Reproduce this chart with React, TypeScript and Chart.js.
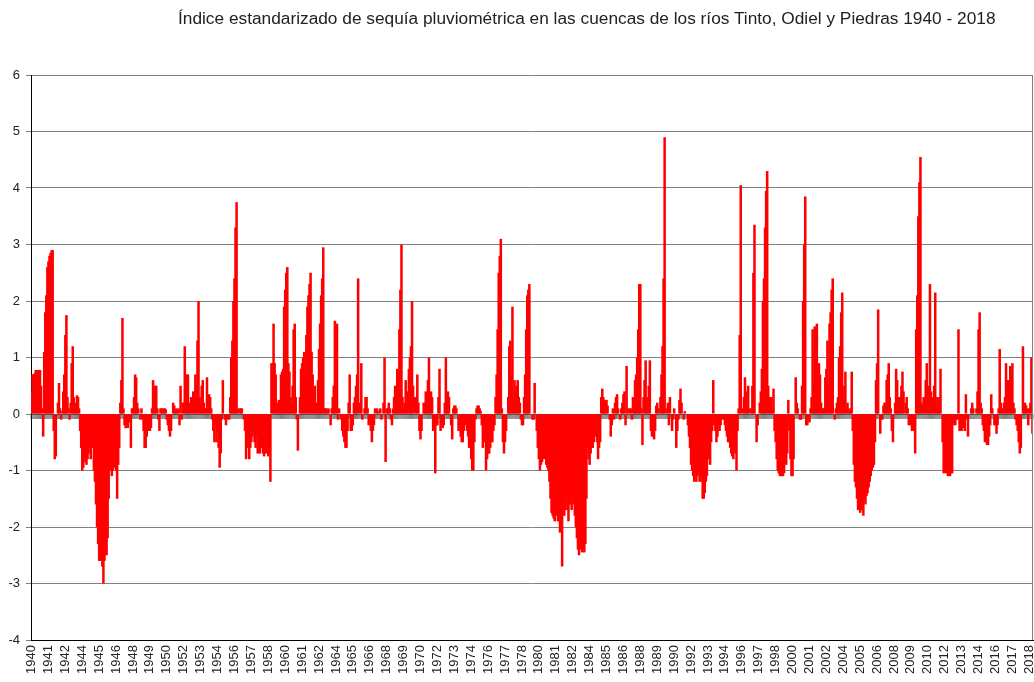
import React, { useEffect, useRef } from "react";
import { Chart, registerables } from "chart.js";

Chart.register(...registerables);

const TITLE =
  "Índice estandarizado de sequía pluviométrica en las cuencas de los ríos Tinto, Odiel y Piedras 1940 - 2018";
const FIRST_YEAR = 1940;
const LABEL_EVERY = 16;
const Y_MIN = -4;
const Y_MAX = 6;

// Monthly SPI values, one row per year
const spi1940s = [
  0.4, 0.7, 0.7, 0.72, 0.78, 0.78, 0.25, 0.78, 0.78, 0.5, 0.1, -0.4,
  1.1, 1.8, 2.1, 2.6, 2.7, 2.8, 2.85, 2.9, 2.9, -0.3, -0.8, -0.75,
  0.0, 0.2, 0.55, 0.1, -0.1, 0.05, 0.4, 0.7, 1.4, 1.75, 0.3, 0.1,
  -0.1, 0.2, 0.9, 1.2, 0.3, 0.1, 0.2, 0.33, 0.3, 0.1, -0.3, -0.6,
  -1.0, -0.95, -0.8, -0.85, -0.9, -0.8, -0.7, -0.6, -0.8, -0.5, -0.6, -1.0,
  -1.2, -1.6, -2.0, -2.3, -2.6, -2.6, -2.5, -2.7, -3.0, -2.6, -2.5, -2.5,
  -2.2, -1.5, -1.0, -1.0, -1.1, -1.0, -0.9, -0.95, -1.0, -1.5, -0.9, -0.6,
  0.2, 0.6, 1.7, 0.1, -0.2, -0.25, -0.2, -0.25, -0.15, -0.1, -0.6, 0.1,
  0.1, 0.3, 0.7, 0.65, 0.2, 0.1, 0.0, -0.1, 0.1, -0.1, -0.3, -0.6,
  -0.6, -0.4, -0.3, -0.3, -0.3, -0.25, 0.1, 0.6, 0.2, 0.5, 0.5, 0.1,
];
const spi1950s = [
  -0.1, -0.3, 0.1, 0.1, 0.05, 0.1, 0.1, 0.08, -0.1, -0.2, -0.3, -0.4,
  -0.3, 0.0, 0.2, 0.15, 0.05, 0.1, 0.05, 0.1, -0.2, 0.5, -0.1, 0.2,
  0.2, 1.2, 0.3, 0.7, 0.7, 0.2, 0.1, 0.3, 0.2, 0.4, 0.3, 0.7,
  0.5, 1.3, 2.0, 0.3, 0.2, 0.5, 0.6, 0.2, 0.1, 0.1, 0.65, 0.2,
  0.35, 0.3, 0.1, -0.1, -0.3, -0.5, -0.2, -0.5, -0.3, -0.6, -0.95, -0.7,
  -0.1, 0.6, 0.0, -0.1, -0.2, -0.1, 0.0, -0.1, 0.3, 1.0, 1.3, 2.0,
  2.4, 3.3, 3.75, 0.1, 0.0, 0.1, 0.1, 0.1, 0.0, -0.1, -0.3, -0.8,
  -0.5, -0.6, -0.8, -0.6, -0.5, -0.4, -0.3, -0.5, -0.6, -0.4, -0.7, -0.65,
  -0.7, -0.6, -0.5, -0.7, -0.75, -0.6, -0.7, -0.6, -0.75, -0.7, -1.2, 0.9,
  0.9, 1.6, 0.9, 0.7, 0.1, 0.2, 0.25, 0.2, 0.7, 0.75, 0.8, 1.9,
];
const spi1960s = [
  2.2, 2.5, 2.6, 0.9, 0.75, 0.3, 0.2, 0.5, 1.5, 1.6, 0.3, -0.1,
  -0.65, 0.0, 0.3, 0.8, 0.9, 1.0, 1.1, 0.7, 1.4, 1.9, 2.1, 2.3,
  2.5, 1.1, 0.7, 0.3, 0.5, 0.1, 0.2, 0.6, 1.15, 1.6, 2.1, 2.4,
  2.95, 0.1, 0.1, 0.1, 0.05, 0.1, 0.0, -0.2, 0.1, 0.3, 0.5, 1.65,
  1.5, 1.6, -0.1, 0.1, 0.0, -0.1, -0.3, -0.4, -0.5, -0.6, -0.6, -0.3,
  0.2, 0.7, -0.3, -0.3, -0.2, 0.2, 0.3, 0.5, 0.7, 2.4, 0.0, 0.2,
  0.9, -0.1, 0.0, 0.1, 0.3, 0.3, 0.1, -0.2, -0.1, -0.3, -0.5, -0.3,
  -0.2, 0.1, 0.0, 0.1, 0.05, 0.0, 0.1, -0.1, 0.0, 0.2, 1.0, -0.85,
  0.1, 0.1, 0.2, 0.1, -0.1, -0.2, 0.1, 0.3, 0.5, 0.4, 0.8, 0.6,
  1.5, 2.2, 3.0, 0.3, 0.1, 0.2, 0.6, 0.2, 0.4, 0.8, 1.0, 1.2,
];
const spi1970s = [
  2.0, 0.5, 0.0, 0.3, 0.3, 0.7, 0.2, -0.3, -0.45, -0.3, 0.0, 0.2,
  0.2, 0.4, 0.3, 0.6, 1.0, 0.2, 0.4, 0.3, -0.3, -0.2, -1.05, -0.2,
  -0.2, 0.3, 0.8, -0.3, -0.2, -0.25, -0.2, 0.2, 1.0, 0.2, 0.4, 0.3,
  0.0, -0.2, -0.45, 0.1, 0.15, 0.15, 0.1, 0.0, -0.3, -0.2, -0.4, -0.5,
  -0.5, -0.3, -0.2, -0.1, -0.3, -0.4, -0.6, -0.5, -0.8, -1.0, -1.0, -0.5,
  -0.1, 0.1, 0.15, 0.15, 0.1, 0.05, -0.2, -0.6, -0.3, -0.5, -1.0, -0.8,
  -0.7, -0.7, -0.6, -0.5, -0.5, -0.3, -0.2, 0.3, 0.7, 1.5, 2.5, 2.8,
  3.1, 0.1, -0.5, -0.7, -0.5, -0.3, 0.0, 0.3, 1.2, 1.3, 0.7, 1.9,
  0.3, 0.6, 0.4, 0.5, 0.6, 0.3, 0.2, -0.1, -0.2, -0.2, 0.3, 0.7,
  1.5, 2.1, 2.2, 2.3, 0.0, 0.0, -0.1, -0.1, 0.55, 0.0, -0.3, -0.6,
];
const spi1980s = [
  -0.8, -1.0, -0.9, -0.85, -0.8, -0.7, -0.8, -0.9, -0.95, -1.0, -1.2, -1.5,
  -1.75, -1.8, -1.85, -1.9, -1.8, -1.7, -1.9, -1.8, -2.1, -2.0, -2.7, -1.6,
  -1.8, -1.7, -1.5, -1.7, -1.9, -1.6, -1.6, -1.7, -1.5, -1.6, -1.8, -2.0,
  -2.2, -2.4, -2.5, -2.4, -2.3, -2.45, -2.4, -2.45, -2.3, -1.5, -0.6, -0.8,
  -0.9, -0.7, -0.6, -0.6, -0.5, -0.4, -0.3, -0.5, -0.8, -0.6, -0.5, 0.3,
  0.45, 0.3, 0.25, 0.2, 0.25, 0.15, 0.0, -0.1, -0.4, -0.2, 0.1, -0.1,
  0.2, 0.3, 0.35, 0.1, 0.0, -0.1, 0.1, 0.2, 0.35, 0.4, -0.2, 0.85,
  0.1, 0.0, 0.1, 0.1, -0.1, 0.3, 0.2, 0.6, 0.7, 1.0, 1.5, 2.3,
  2.3, 0.1, -0.55, 0.3, 0.6, 0.95, 0.3, 0.2, 0.5, 0.95, -0.3, -0.4,
  -0.4, -0.45, -0.3, 0.15, 0.2, 0.1, 0.0, 0.3, 0.7, 1.2, 2.4, 4.9,
];
const spi1990s = [
  0.0, 0.1, 0.2, -0.2, 0.3, 0.0, -0.3, -0.1, 0.1, 0.0, -0.6, -0.3,
  -0.1, 0.25, 0.45, 0.2, 0.0, -0.1, 0.05, 0.0, 0.0, -0.2, -0.4, -0.6,
  -0.9, -1.0, -1.1, -1.2, -1.0, -1.2, -1.1, -1.0, -1.2, -1.1, -1.2, -1.5,
  -1.5, -1.4, -1.2, -1.1, -0.6, -0.8, -0.9, -0.5, -0.3, 0.6, -0.2, -0.3,
  -0.5, -0.4, -0.2, -0.3, -0.2, -0.1, 0.0, -0.1, -0.2, -0.3, -0.4, -0.5,
  -0.5, -0.6, -0.7, -0.75, -0.8, -0.6, -0.7, -1.0, -0.3, 0.1, 1.4, 4.05,
  0.0, 0.1, 0.3, 0.65, 0.4, 0.3, 0.5, 0.1, 0.0, 0.1, 0.5, 2.5,
  3.35, 0.0, -0.5, -0.2, 0.0, 0.2, 0.4, 0.8, 2.0, 2.4, 3.3, 3.95,
  4.3, 0.5, 0.2, 0.3, 0.3, 0.1, 0.45, -0.3, -0.5, -0.8, -1.0, -1.05,
  -1.1, -1.05, -1.1, -1.1, -1.05, -0.6, -0.9, -0.7, 0.25, -0.3, -0.8, -1.1,
];
const spi2000s = [
  -1.1, -0.8, 0.0, 0.65, 0.2, 0.1, 0.0, -0.1, -0.1, 0.5, 2.0, 3.0,
  3.85, -0.2, -0.2, -0.1, -0.15, 0.1, 0.3, 1.5, 0.5, 1.55, 0.9, 1.6,
  0.2, 0.9, 0.7, 0.2, 0.1, 0.1, 0.1, 0.65, 0.8, 1.3, 0.5, 1.6,
  1.8, 2.2, 2.4, 0.0, -0.1, 0.1, 0.2, 0.3, 1.0, 1.2, 1.8, 2.15,
  0.3, 0.5, 0.75, 0.1, 0.2, 0.1, 0.05, 0.1, 0.75, -0.3, -0.9, -1.2,
  -1.3, -1.5, -1.7, -1.6, -1.75, -1.7, -1.6, -1.8, -1.5, -1.6, -1.45, -1.4,
  -1.3, -1.2, -1.1, -1.0, -0.95, -0.9, -0.5, 0.6, 0.9, 1.85, 0.0, -0.35,
  -0.1, -0.1, 0.15, 0.2, 0.2, 0.6, 0.7, 0.9, 0.3, 0.1, -0.3, -0.5,
  0.0, 0.2, 0.8, 0.6, 0.3, 0.3, 0.3, 0.5, 0.75, 0.4, 0.0, 0.2,
  0.3, 0.1, -0.2, -0.1, -0.2, -0.3, -0.2, -0.3, -0.7, 1.5, 2.1, 3.5,
];
const spi2010s = [
  4.1, 4.55, 0.2, 0.15, 0.3, 0.3, 0.6, 0.9, 0.4, 0.5, 2.3, 0.4,
  0.2, 0.3, 0.5, 2.15, 0.1, 0.3, 0.2, 0.3, 0.8, 0.0, -0.5, -1.05,
  -1.0, -1.05, -1.0, -1.1, -1.05, -1.1, -1.05, -1.05, -0.2, 0.0, -0.2, -0.1,
  -0.1, 1.5, -0.3, -0.3, -0.3, -0.2, -0.25, -0.3, 0.35, -0.1, -0.4, 0.0,
  0.0, 0.1, 0.2, 0.1, 0.0, 0.0, 0.1, 0.4, 1.5, 1.8, 0.2, 0.1,
  -0.2, -0.3, -0.5, -0.5, -0.55, -0.55, -0.4, -0.2, 0.35, 0.1, 0.0, -0.2,
  -0.2, -0.35, -0.2, 0.1, 1.15, 0.2, 0.1, 0.1, 0.2, 0.3, 0.9, 0.6,
  0.6, 0.4, 0.85, 0.7, 0.9, 0.2, 0.1, -0.1, -0.2, -0.3, -0.5, -0.7,
  -0.6, 0.0, 1.2, 0.1, 0.2, 0.15, 0.1, -0.2, 0.1, 0.2, 1.0, -0.35,
];

const spiValues: number[] = [
  ...spi1940s,
  ...spi1950s,
  ...spi1960s,
  ...spi1970s,
  ...spi1980s,
  ...spi1990s,
  ...spi2000s,
  ...spi2010s,
];

// category label of each month = its year
const monthLabels: string[] = spiValues.map((_, i) => String(FIRST_YEAR + Math.floor(i / 12)));

const FONT = "'Liberation Sans', Arial, sans-serif";

const zeroTicks = {
  id: "zeroTicks",
  beforeDatasetsDraw(chart: any) {
    const { ctx, scales } = chart;
    const x = scales.x;
    const y = scales.y;
    const y0 = y.getPixelForValue(0);
    const n = chart.data.labels.length;
    const step = (x.right - x.left) / n;
    ctx.save();
    ctx.strokeStyle = "rgba(40,40,40,0.6)";
    ctx.lineWidth = 1;
    ctx.beginPath();
    for (let i = 0; i <= n; i++) {
      const px = x.left + i * step;
      ctx.moveTo(px, y0);
      ctx.lineTo(px, y0 + 5);
    }
    ctx.stroke();
    ctx.restore();
  },
  afterDraw(chart: any) {
    const { ctx, chartArea } = chart;
    ctx.save();
    ctx.strokeStyle = "#808080";
    ctx.lineWidth = 1;
    ctx.beginPath();
    const rx = Math.round(chartArea.right) - 0.5;
    ctx.moveTo(rx, chartArea.top);
    ctx.lineTo(rx, chartArea.bottom);
    ctx.stroke();
    ctx.restore();
  },
};

export default function App() {
  const canvasRef = useRef<HTMLCanvasElement | null>(null);

  useEffect(() => {
    if (!canvasRef.current) return;
    const chart = new Chart(canvasRef.current, {
      type: "bar",
      data: {
        labels: monthLabels,
        datasets: [
          {
            data: spiValues,
            backgroundColor: "#ff0000",
            borderWidth: 0,
            barPercentage: 2.4,
            categoryPercentage: 1,
          },
        ],
      },
      options: {
        animation: false,
        responsive: false,
        maintainAspectRatio: false,
        layout: { padding: { top: 75, right: 1, left: 0, bottom: 0 } },
        plugins: {
          legend: { display: false },
          title: { display: false },
          tooltip: { enabled: false },
        },
        scales: {
          x: {
            grid: { display: false, drawTicks: false },
            border: { display: true, color: "#000", width: 1 },
            ticks: {
              autoSkip: false,
              minRotation: 90,
              maxRotation: 90,
              padding: 5,
              color: "#222",
              font: { family: FONT, size: 13 },
              callback: (_v: any, i: number) => (i % LABEL_EVERY === 0 ? monthLabels[i] : ""),
            },
            afterFit: (s: any) => {
              s.height = 42;
              s.paddingLeft = 0;
              s.paddingRight = 0;
            },
          },
          y: {
            min: Y_MIN,
            max: Y_MAX,
            ticks: {
              stepSize: 1,
              padding: 6,
              color: "#222",
              font: { family: FONT, size: 13 },
            },
            grid: { color: "#808080", lineWidth: 1, tickLength: 5 },
            border: { display: true, color: "#000", width: 1 },
            afterFit: (s: any) => {
              s.width = 31;
              s.paddingTop = 0;
              s.paddingBottom = 0;
            },
          },
        },
      },
      plugins: [zeroTicks],
    });
    return () => chart.destroy();
  }, []);

  return (
    <div style={{ position: "absolute", left: 0, top: 0, width: 1034, height: 682, background: "#fff", overflow: "hidden" }}>
      <div
        style={{
          position: "absolute",
          left: 178,
          top: 8,
          whiteSpace: "nowrap",
          fontFamily: FONT,
          fontSize: 17.3,
          color: "#222",
        }}
      >
        {TITLE}
      </div>
      <canvas ref={canvasRef} width={1034} height={682} style={{ display: "block" }} />
    </div>
  );
}
